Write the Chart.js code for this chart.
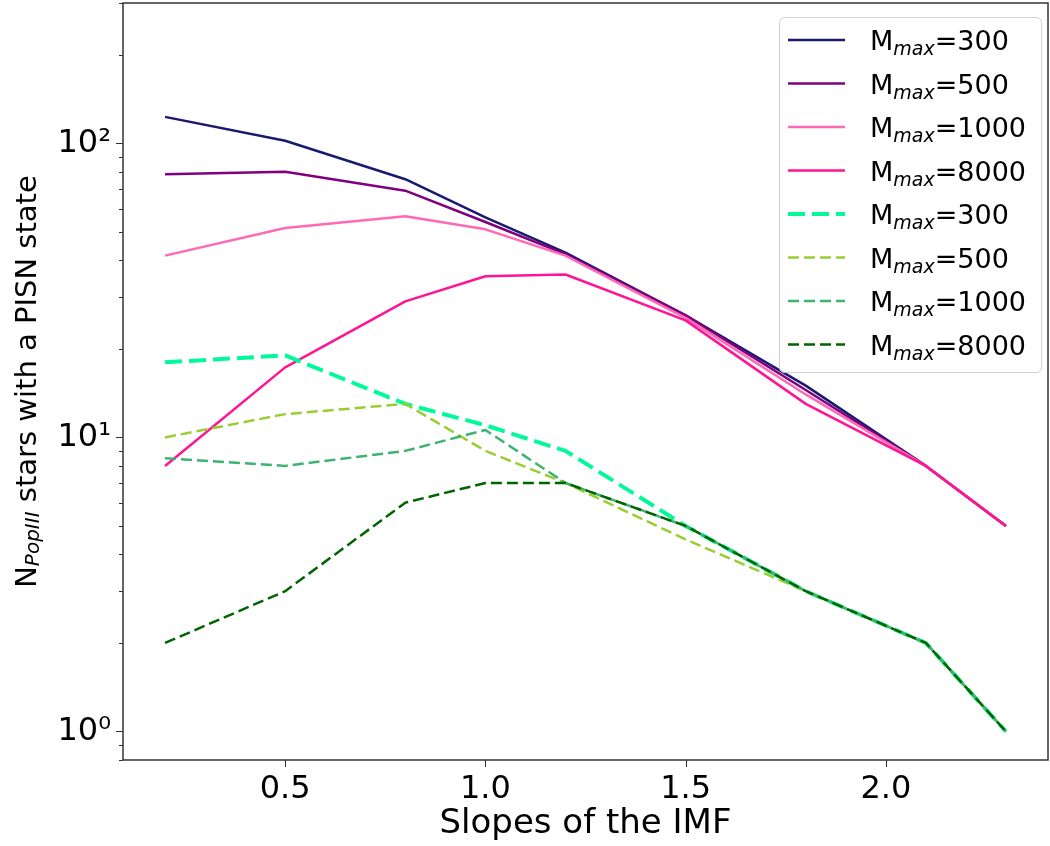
<!DOCTYPE html>
<html>
<head>
<meta charset="utf-8">
<script src="https://cdn.jsdelivr.net/npm/chart.js@4.4.1/dist/chart.umd.min.js"></script>
<style>
html, body { margin: 0; padding: 0; background: #fff; }
</style>
</head>
<body>
<canvas id="pisn_chart" width="1050" height="846"></canvas>
<script>
// IMF slopes on the x axis
var slopes = [0.2, 0.5, 0.8, 1.0, 1.2, 1.5, 1.8, 2.1, 2.3];

// solid lines
var solid300  = [123, 102, 75.5, 56, 42.5, 26, 15, 8, 5];
var solid500  = [78.5, 80, 69, 54, 42, 26, 14.5, 8, 5];
var solid1000 = [41.5, 51.5, 56.5, 51, 41.5, 25.5, 14, 8, 5];
var solid8000 = [8, 17.3, 29, 35.3, 35.8, 25, 13, 8, 5];

// dashed lines
var dash300  = [18, 19, 13, 11, 9, 5, 3, 2, 1];
var dash500  = [10, 12, 13, 9, 7, 4.5, 3, 2, 1];
var dash1000 = [8.5, 8, 9, 10.6, 7, 5, 3, 2, 1];
var dash8000 = [2, 3, 6, 7, 7, 5, 3, 2, 1];

var mmaxLabels = ['300', '500', '1000', '8000', '300', '500', '1000', '8000'];
var lineColors = ['#191970', '#800080', '#ff69b4', '#ff1493', '#00fa9a', '#9acd32', '#3cb371', '#006400'];

var xTicks = [0.5, 1.0, 1.5, 2.0];
var yMajor = [1, 10, 100];
var yMinor = [0.8, 0.9, 2, 3, 4, 5, 6, 7, 8, 9, 20, 30, 40, 50, 60, 70, 80, 90, 200, 300];

var seriesList = [solid300, solid500, solid1000, solid8000, dash300, dash500, dash1000, dash8000];
var supDigits = ['\u2070', '\u00b9', '\u00b2', '\u00b3'];

Chart.defaults.font.family = "'DejaVu Sans', sans-serif";
Chart.defaults.color = '#000';

var datasets = [];
for (var i = 0; i < seriesList.length; i++) {
	var pts = [];
	for (var j = 0; j < slopes.length; j++) {
		pts.push({ x: slopes[j], y: seriesList[i][j] });
	}
	var dashed = i >= 4;
	var wide = (i == 4);
	datasets.push({
		label: 'Mmax=' + mmaxLabels[i],
		data: pts,
		borderColor: lineColors[i],
		backgroundColor: lineColors[i],
		borderWidth: wide ? 4 : 2.5,
		borderDash: dashed ? (wide ? [17, 7] : [11, 5]) : [],
		borderJoinStyle: 'round',
		pointRadius: 0,
		tension: 0,
		fill: false,
		order: seriesList.length - 1 - i
	});
}

// no extra room for half tick labels at the axis ends
function noEndPadding(scale) {
	scale.paddingTop = 0;
	scale.paddingBottom = 0;
	scale.paddingLeft = 0;
	scale.paddingRight = 0;
}

// frame, y tick marks, y title with subscript and the legend box
var drawExtras = {
	id: 'drawExtras',
	afterDraw: function (chart) {
		var ctx = chart.ctx;
		var area = chart.chartArea;
		var ys = chart.scales.y;
		var xs = chart.scales.x;
		ctx.save();

		// ticks
		ctx.strokeStyle = '#333';
		ctx.lineWidth = 1;
		ctx.beginPath();
		yMajor.concat(yMinor).forEach(function (v) {
			var py = Math.round(ys.getPixelForValue(v)) + 0.5;
			var len = yMajor.indexOf(v) >= 0 ? 7 : 4;
			ctx.moveTo(area.left - len, py);
			ctx.lineTo(area.left, py);
		});
		xTicks.forEach(function (v) {
			var px = Math.round(xs.getPixelForValue(v)) + 0.5;
			ctx.moveTo(px, area.bottom);
			ctx.lineTo(px, area.bottom + 7);
		});
		ctx.stroke();

		// frame
		ctx.strokeStyle = '#333';
		ctx.lineWidth = 1.5;
		ctx.strokeRect(area.left, area.top, area.right - area.left, area.bottom - area.top);

		// y title
		ctx.translate(28, (area.top + area.bottom) / 2);
		ctx.rotate(-Math.PI / 2);
		ctx.fillStyle = '#000';
		ctx.textBaseline = 'middle';
		var bigFont = "29px 'DejaVu Sans'";
		var subFont = "italic 20px 'DejaVu Sans'";
		var parts = [['N', bigFont, 0], ['PopIII', subFont, 6], [' stars with a PISN state', bigFont, 0]];
		var total = 0;
		parts.forEach(function (p) { ctx.font = p[1]; total += ctx.measureText(p[0]).width; });
		var tx = -total / 2;
		parts.forEach(function (p) {
			ctx.font = p[1];
			ctx.fillText(p[0], tx, p[2]);
			tx += ctx.measureText(p[0]).width;
		});
		ctx.setTransform(1, 0, 0, 1, 0, 0);

		// legend
		var bw = 262, bh = 355;
		var bx = area.right - 7 - bw, by = area.top + 14;
		ctx.fillStyle = 'rgba(255,255,255,0.85)';
		ctx.strokeStyle = '#d0d0d0';
		ctx.lineWidth = 1;
		ctx.beginPath();
		ctx.roundRect(bx + 0.5, by + 0.5, bw, bh, 5);
		ctx.fill();
		ctx.stroke();
		for (var k = 0; k < datasets.length; k++) {
			var ds = datasets[k];
			var ry = by + 23 + k * 43.5;
			ctx.strokeStyle = ds.borderColor;
			ctx.lineWidth = ds.borderWidth;
			ctx.setLineDash(ds.borderDash);
			ctx.beginPath();
			ctx.moveTo(bx + 9, ry);
			ctx.lineTo(bx + 66, ry);
			ctx.stroke();
			ctx.setLineDash([]);

			ctx.fillStyle = '#000';
			ctx.textBaseline = 'alphabetic';
			var lx = bx + 91;
			var base = ry + 10;
			ctx.font = "27px 'DejaVu Sans'";
			ctx.fillText('M', lx, base);
			lx += ctx.measureText('M').width;
			ctx.font = "italic 19px 'DejaVu Sans'";
			ctx.fillText('max', lx, base + 5);
			lx += ctx.measureText('max').width;
			ctx.font = "27px 'DejaVu Sans'";
			ctx.fillText('=' + mmaxLabels[k], lx, base);
		}
		ctx.restore();
	}
};

new Chart(document.getElementById('pisn_chart'), {
	type: 'line',
	data: { datasets: datasets },
	options: {
		responsive: false,
		animation: false,
		layout: { padding: { top: 3, right: 2, left: 0, bottom: 0 } },
		plugins: {
			legend: { display: false },
			tooltip: { enabled: false }
		},
		scales: {
			x: {
				type: 'linear',
				min: 0.095,
				max: 2.405,
				afterBuildTicks: function (scale) {
					scale.ticks = xTicks.map(function (v) { return { value: v }; });
				},
				afterFit: function (scale) {
					scale.height = 86;
					noEndPadding(scale);
				},
				grid: { display: true, drawOnChartArea: false, drawTicks: true, tickLength: 7, tickColor: 'rgba(0,0,0,0)' },
				border: { display: false },
				ticks: {
					font: { size: 32 },
					padding: 3,
					maxRotation: 0,
					callback: function (v) { return Number(v).toFixed(1); }
				},
				title: {
					display: true,
					text: 'Slopes of the IMF',
					font: { size: 34 },
					padding: { top: 0, bottom: 1 }
				}
			},
			y: {
				type: 'logarithmic',
				min: 0.8,
				max: 300,
				afterBuildTicks: function (scale) {
					scale.ticks = yMajor.map(function (v) { return { value: v, major: true }; });
				},
				afterFit: function (scale) {
					scale.width = 123;
					noEndPadding(scale);
				},
				grid: { display: true, drawOnChartArea: false, drawTicks: true, tickLength: 7, tickColor: 'rgba(0,0,0,0)' },
				border: { display: false },
				ticks: {
					font: { size: 32 },
					padding: 5,
					callback: function (v) {
						var p = Math.round(Math.log10(v));
						return '10' + supDigits[p];
					}
				}
			}
		}
	},
	plugins: [drawExtras]
});
</script>
</body>
</html>
